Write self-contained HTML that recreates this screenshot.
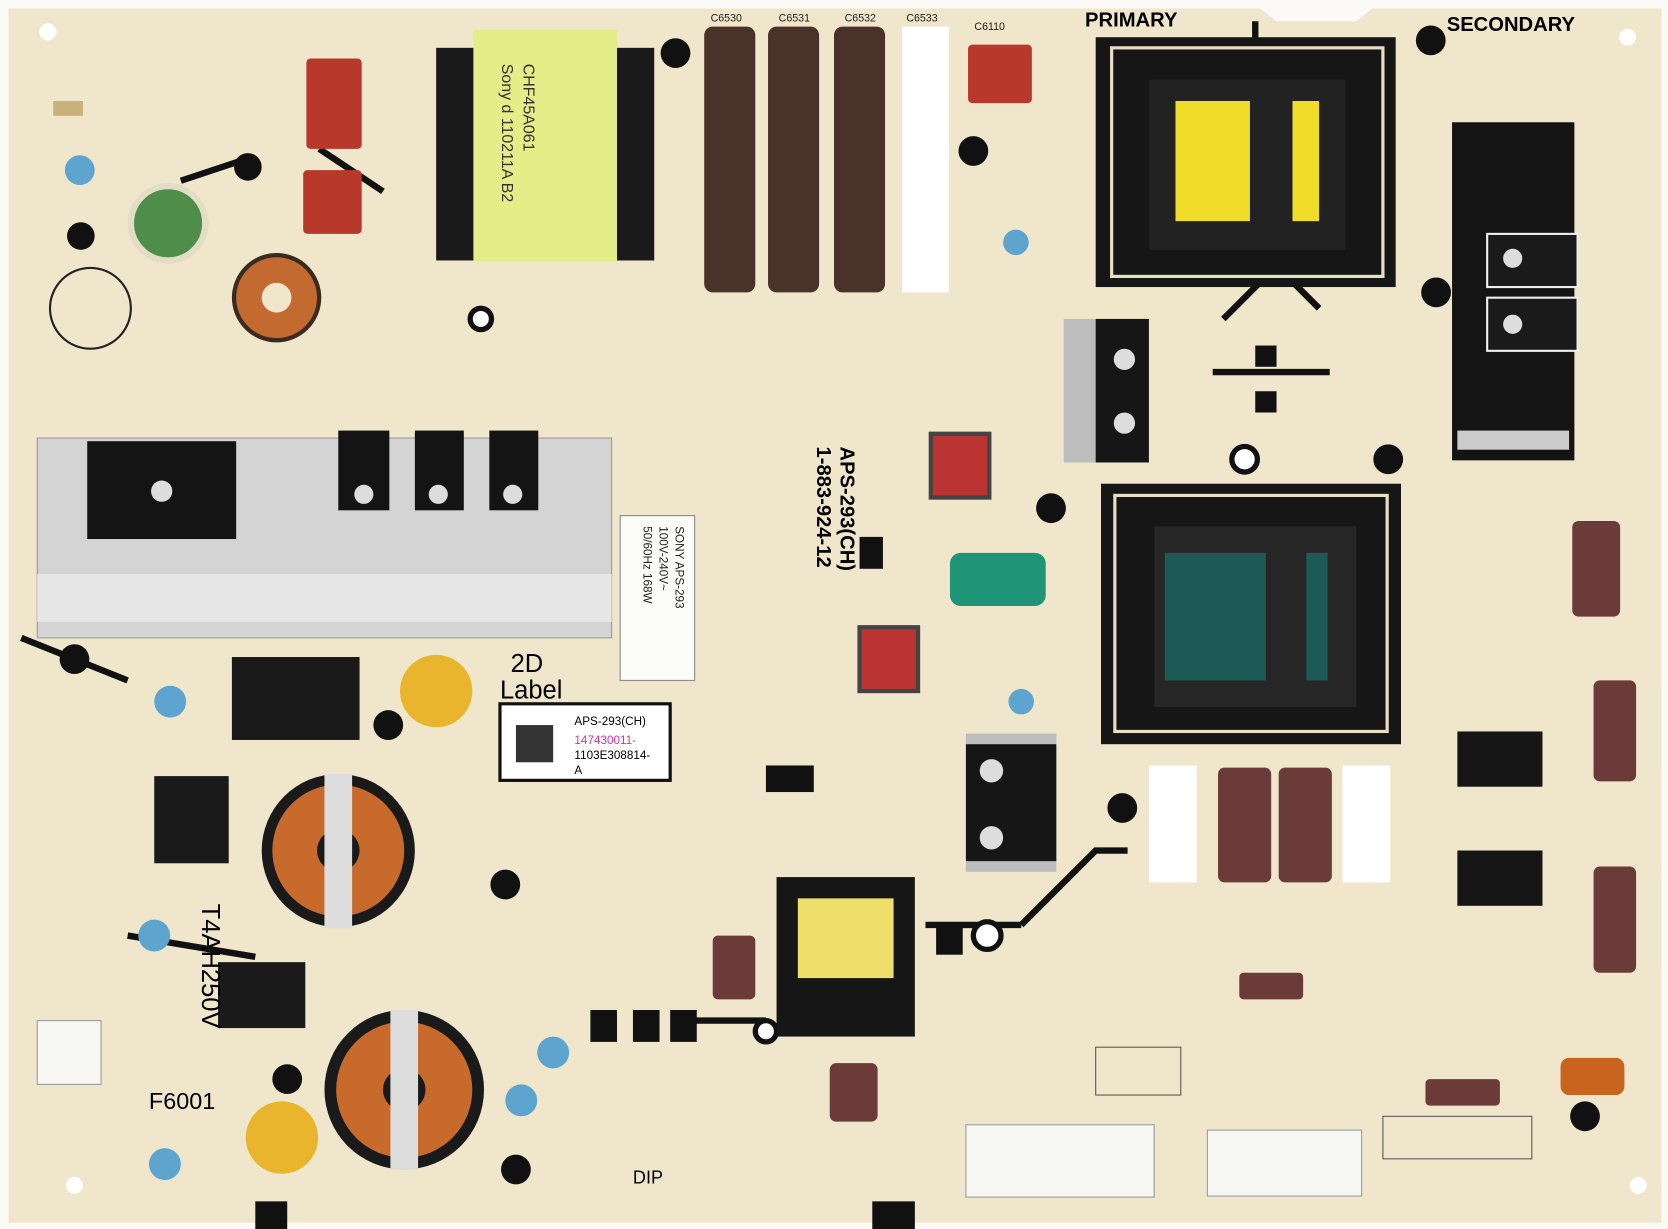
<!DOCTYPE html>
<html><head><meta charset="utf-8"><style>
html,body{margin:0;padding:0;background:#fff;}
svg{display:block;}
text{font-family:"Liberation Sans",sans-serif;}
</style></head><body>
<svg width="1668" height="1229" viewBox="0 0 1568 1156" preserveAspectRatio="none" xmlns="http://www.w3.org/2000/svg">
<rect width="1568" height="1156" fill="#fbfaf6"/>
<path d="M8 8 H1185 L1200 20 H1275 L1290 8 H1562 V1150 H8 Z" fill="#efe6cb"/>
<!-- traces -->
<g stroke="#111" stroke-width="6" fill="none">
<path d="M20 600 L120 640"/><path d="M120 880 L240 900"/><path d="M1150 300 L1200 250 L1240 290"/>
<path d="M1140 350 L1250 350"/><path d="M960 870 L1030 800 L1060 800"/><path d="M640 960 L720 960"/>
<path d="M870 870 L960 870"/><path d="M1180 20 V60"/><path d="M300 140 L360 180"/>
<path d="M170 170 L230 150"/>
</g>
<!-- mounting holes -->
<g fill="#fff"><circle cx="45" cy="30" r="8"/><circle cx="1530" cy="35" r="8"/><circle cx="70" cy="1115" r="8"/><circle cx="1540" cy="1115" r="8"/><circle cx="928" cy="880" r="13" stroke="#111" stroke-width="5"/><circle cx="1170" cy="432" r="12" stroke="#111" stroke-width="5"/><circle cx="452" cy="300" r="10" stroke="#111" stroke-width="5"/><circle cx="720" cy="970" r="10" stroke="#111" stroke-width="5"/></g>
<!-- left heatsink -->
<rect x="35" y="412" width="540" height="188" fill="#d4d4d4" stroke="#999"/>
<rect x="35" y="540" width="540" height="45" fill="#e6e6e6"/>
<rect x="82" y="415" width="140" height="92" fill="#141414"/>
<circle cx="152" cy="462" r="10" fill="#ddd"/>
<g fill="#141414"><rect x="318" y="405" width="48" height="75"/><rect x="390" y="405" width="46" height="75"/><rect x="460" y="405" width="46" height="75"/></g>
<g fill="#ddd"><circle cx="342" cy="465" r="9"/><circle cx="412" cy="465" r="9"/><circle cx="482" cy="465" r="9"/></g>
<!-- top transformer -->
<rect x="410" y="45" width="205" height="200" fill="#1a1a1a"/>
<rect x="445" y="28" width="135" height="218" fill="#e3ee88"/>
<text x="0" y="0" font-size="15" fill="#333" transform="translate(492 60) rotate(90)">CHF45A061</text>
<text x="0" y="0" font-size="15" fill="#333" transform="translate(472 60) rotate(90)">Sony d 110211A B2</text>
<!-- big caps -->
<g fill="#4a3129"><rect x="662" y="25" width="48" height="250" rx="8"/><rect x="722" y="25" width="48" height="250" rx="8"/><rect x="784" y="25" width="48" height="250" rx="8"/></g>
<rect x="848" y="25" width="44" height="250" fill="#fff"/>
<g font-size="10" fill="#222"><text x="668" y="20">C6530</text><text x="732" y="20">C6531</text><text x="794" y="20">C6532</text><text x="852" y="20">C6533</text><text x="916" y="28">C6110</text></g>
<!-- red caps -->
<g fill="#b8392b"><rect x="288" y="55" width="52" height="85" rx="4"/><rect x="285" y="160" width="55" height="60" rx="4"/><rect x="910" y="42" width="60" height="55" rx="4"/></g>
<!-- small left bits -->
<circle cx="158" cy="210" r="35" fill="#4f8d4a" stroke="#e4ddc5" stroke-width="6"/>
<circle cx="85" cy="290" r="38" fill="none" stroke="#222" stroke-width="2"/>
<circle cx="260" cy="280" r="40" fill="#c26a30" stroke="#3a2a20" stroke-width="4"/>
<circle cx="260" cy="280" r="14" fill="#efe6cb"/>
<g fill="#5da5cf"><circle cx="75" cy="160" r="14"/><circle cx="160" cy="660" r="15"/><circle cx="145" cy="880" r="15"/><circle cx="155" cy="1095" r="15"/><circle cx="955" cy="228" r="12"/><circle cx="960" cy="660" r="12"/><circle cx="520" cy="990" r="15"/><circle cx="490" cy="1035" r="15"/></g>
<rect x="50" y="95" width="28" height="14" fill="#c9b17a"/>
<!-- primary transformer -->
<rect x="1030" y="35" width="282" height="235" fill="#161616"/>
<rect x="1045" y="45" width="255" height="215" fill="none" stroke="#e8e0c4" stroke-width="3"/>
<rect x="1080" y="75" width="185" height="160" fill="#222"/>
<rect x="1105" y="95" width="70" height="113" fill="#f0dd2a"/>
<rect x="1215" y="95" width="25" height="113" fill="#f0dd2a"/>
<!-- right heatsink -->
<rect x="1365" y="115" width="115" height="318" fill="#141414"/>
<rect x="1398" y="220" width="85" height="50" fill="#1a1a1a" stroke="#eee" stroke-width="2"/>
<rect x="1398" y="280" width="85" height="50" fill="#1a1a1a" stroke="#eee" stroke-width="2"/>
<circle cx="1422" cy="243" r="9" fill="#ddd"/><circle cx="1422" cy="305" r="9" fill="#ddd"/>
<rect x="1370" y="405" width="105" height="18" fill="#ccc"/>
<!-- mid TO-220s -->
<rect x="1000" y="300" width="80" height="135" fill="#bdbdbd"/>
<rect x="1030" y="300" width="50" height="135" fill="#161616"/>
<circle cx="1057" cy="338" r="10" fill="#ddd"/><circle cx="1057" cy="398" r="10" fill="#ddd"/>
<rect x="908" y="690" width="85" height="130" fill="#bdbdbd"/>
<rect x="908" y="700" width="85" height="110" fill="#161616"/>
<circle cx="932" cy="725" r="11" fill="#ddd"/><circle cx="932" cy="788" r="11" fill="#ddd"/>
<!-- second transformer -->
<rect x="1035" y="455" width="282" height="245" fill="#161616"/>
<rect x="1048" y="466" width="256" height="222" fill="none" stroke="#e8e0c4" stroke-width="3"/>
<rect x="1085" y="495" width="190" height="170" fill="#262626"/>
<rect x="1095" y="520" width="95" height="120" fill="#1e5a55"/>
<rect x="1228" y="520" width="20" height="120" fill="#1e5a55"/>
<!-- green cap -->
<rect x="893" y="520" width="90" height="50" rx="10" fill="#1f9476"/>
<!-- red inductors -->
<rect x="875" y="408" width="55" height="60" fill="#b33" stroke="#444" stroke-width="4"/>
<rect x="808" y="590" width="55" height="60" fill="#b33" stroke="#444" stroke-width="4"/>
<!-- right side secondary caps -->
<rect x="1080" y="720" width="45" height="110" fill="#fff"/>
<rect x="1262" y="720" width="45" height="110" fill="#fff"/>
<g fill="#6b3b3a"><rect x="1145" y="722" width="50" height="108" rx="6"/><rect x="1202" y="722" width="50" height="108" rx="6"/><rect x="1478" y="490" width="45" height="90" rx="6"/><rect x="1498" y="640" width="40" height="95" rx="6"/><rect x="1498" y="815" width="40" height="100" rx="6"/><rect x="1165" y="915" width="60" height="25" rx="4"/><rect x="1340" y="1015" width="70" height="25" rx="4"/><rect x="670" y="880" width="40" height="60" rx="5"/><rect x="780" y="1000" width="45" height="55" rx="6"/></g>
<g fill="#161616"><rect x="1370" y="688" width="80" height="52"/><rect x="1370" y="800" width="80" height="52"/></g>
<rect x="1467" y="995" width="60" height="35" rx="8" fill="#c8641e"/>
<!-- left chokes -->
<g fill="#1a1a1a"><rect x="218" y="618" width="120" height="78"/><rect x="145" y="730" width="70" height="82"/><rect x="205" y="905" width="82" height="62"/></g>
<circle cx="318" cy="800" r="72" fill="#1a1a1a"/><circle cx="318" cy="800" r="62" fill="#c86a2c"/><circle cx="318" cy="800" r="20" fill="#1a1a1a"/><rect x="305" y="728" width="26" height="145" fill="#ddd"/>
<circle cx="380" cy="1025" r="75" fill="#1a1a1a"/><circle cx="380" cy="1025" r="64" fill="#c86a2c"/><circle cx="380" cy="1025" r="20" fill="#1a1a1a"/><rect x="367" y="950" width="26" height="150" fill="#ddd"/>
<!-- yellow discs -->
<circle cx="410" cy="650" r="34" fill="#e8b52c"/><circle cx="265" cy="1070" r="34" fill="#e8b52c"/>
<!-- bottom transformer -->
<rect x="730" y="825" width="130" height="150" fill="#161616"/>
<rect x="750" y="845" width="90" height="75" fill="#eedf6a"/>
<!-- labels -->
<rect x="583" y="485" width="70" height="155" fill="#fbfbf7" stroke="#888"/>
<text x="0" y="0" font-size="11" fill="#222" transform="translate(635 495) rotate(90)">SONY  APS-293</text>
<text x="0" y="0" font-size="11" fill="#222" transform="translate(620 495) rotate(90)">100V-240V~</text>
<text x="0" y="0" font-size="11" fill="#222" transform="translate(605 495) rotate(90)">50/60Hz 168W</text>
<rect x="470" y="662" width="160" height="72" fill="#fff" stroke="#111" stroke-width="3"/>
<rect x="485" y="682" width="35" height="35" fill="#333"/>
<text x="540" y="682" font-size="11">APS-293(CH)</text>
<text x="540" y="700" font-size="11" fill="#c3a">147430011-</text>
<text x="540" y="714" font-size="11">1103E308814-</text>
<text x="540" y="728" font-size="11">A</text>
<text x="480" y="632" font-size="24" font-family="Liberation Mono">2D</text>
<text x="470" y="657" font-size="24" font-family="Liberation Mono">Label</text>
<text x="1020" y="25" font-size="19" font-weight="bold" font-family="Liberation Mono">PRIMARY</text>
<text x="1360" y="29" font-size="19" font-weight="bold" font-family="Liberation Mono">SECONDARY</text>
<text x="140" y="1043" font-size="22" font-family="Liberation Mono">F6001</text>
<text x="0" y="0" font-size="24" font-family="Liberation Mono" transform="translate(190 850) rotate(90)">T4AH250V</text>
<text x="0" y="0" font-size="19" font-weight="bold" font-family="Liberation Mono" transform="translate(790 420) rotate(90)">APS-293(CH)</text>
<text x="0" y="0" font-size="19" font-weight="bold" font-family="Liberation Mono" transform="translate(768 420) rotate(90)">1-883-924-12</text>
<rect x="808" y="505" width="22" height="30" fill="#111"/>
<text x="595" y="1113" font-size="17" font-family="Liberation Mono">DIP</text>
<!-- connectors -->
<rect x="908" y="1058" width="177" height="68" fill="#f6f6f2" stroke="#999"/>
<rect x="1135" y="1063" width="145" height="62" fill="#f6f6f2" stroke="#999"/>
<rect x="35" y="960" width="60" height="60" fill="#f6f6f2" stroke="#999"/>
<rect x="1030" y="985" width="80" height="45" fill="none" stroke="#555"/>
<rect x="1300" y="1050" width="140" height="40" fill="none" stroke="#555"/>
<!-- misc black posts -->
<g fill="#111"><circle cx="635" cy="50" r="14"/><circle cx="233" cy="157" r="13"/><circle cx="76" cy="222" r="13"/><circle cx="915" cy="142" r="14"/><circle cx="1345" cy="38" r="14"/><circle cx="1350" cy="275" r="14"/><circle cx="1305" cy="432" r="14"/><circle cx="988" cy="478" r="14"/><circle cx="1055" cy="760" r="14"/><circle cx="475" cy="832" r="14"/><circle cx="270" cy="1015" r="14"/><circle cx="485" cy="1100" r="14"/><circle cx="365" cy="682" r="14"/><circle cx="1490" cy="1050" r="14"/><circle cx="70" cy="620" r="14"/><rect x="820" y="1130" width="40" height="26"/><rect x="240" y="1130" width="30" height="26"/></g>
<g fill="#111"><rect x="555" y="950" width="25" height="30"/><rect x="595" y="950" width="25" height="30"/><rect x="630" y="950" width="25" height="30"/><rect x="720" y="720" width="45" height="25"/><rect x="1180" y="325" width="20" height="20"/><rect x="1180" y="368" width="20" height="20"/><rect x="880" y="868" width="25" height="30"/></g>
</svg>
</body></html>
